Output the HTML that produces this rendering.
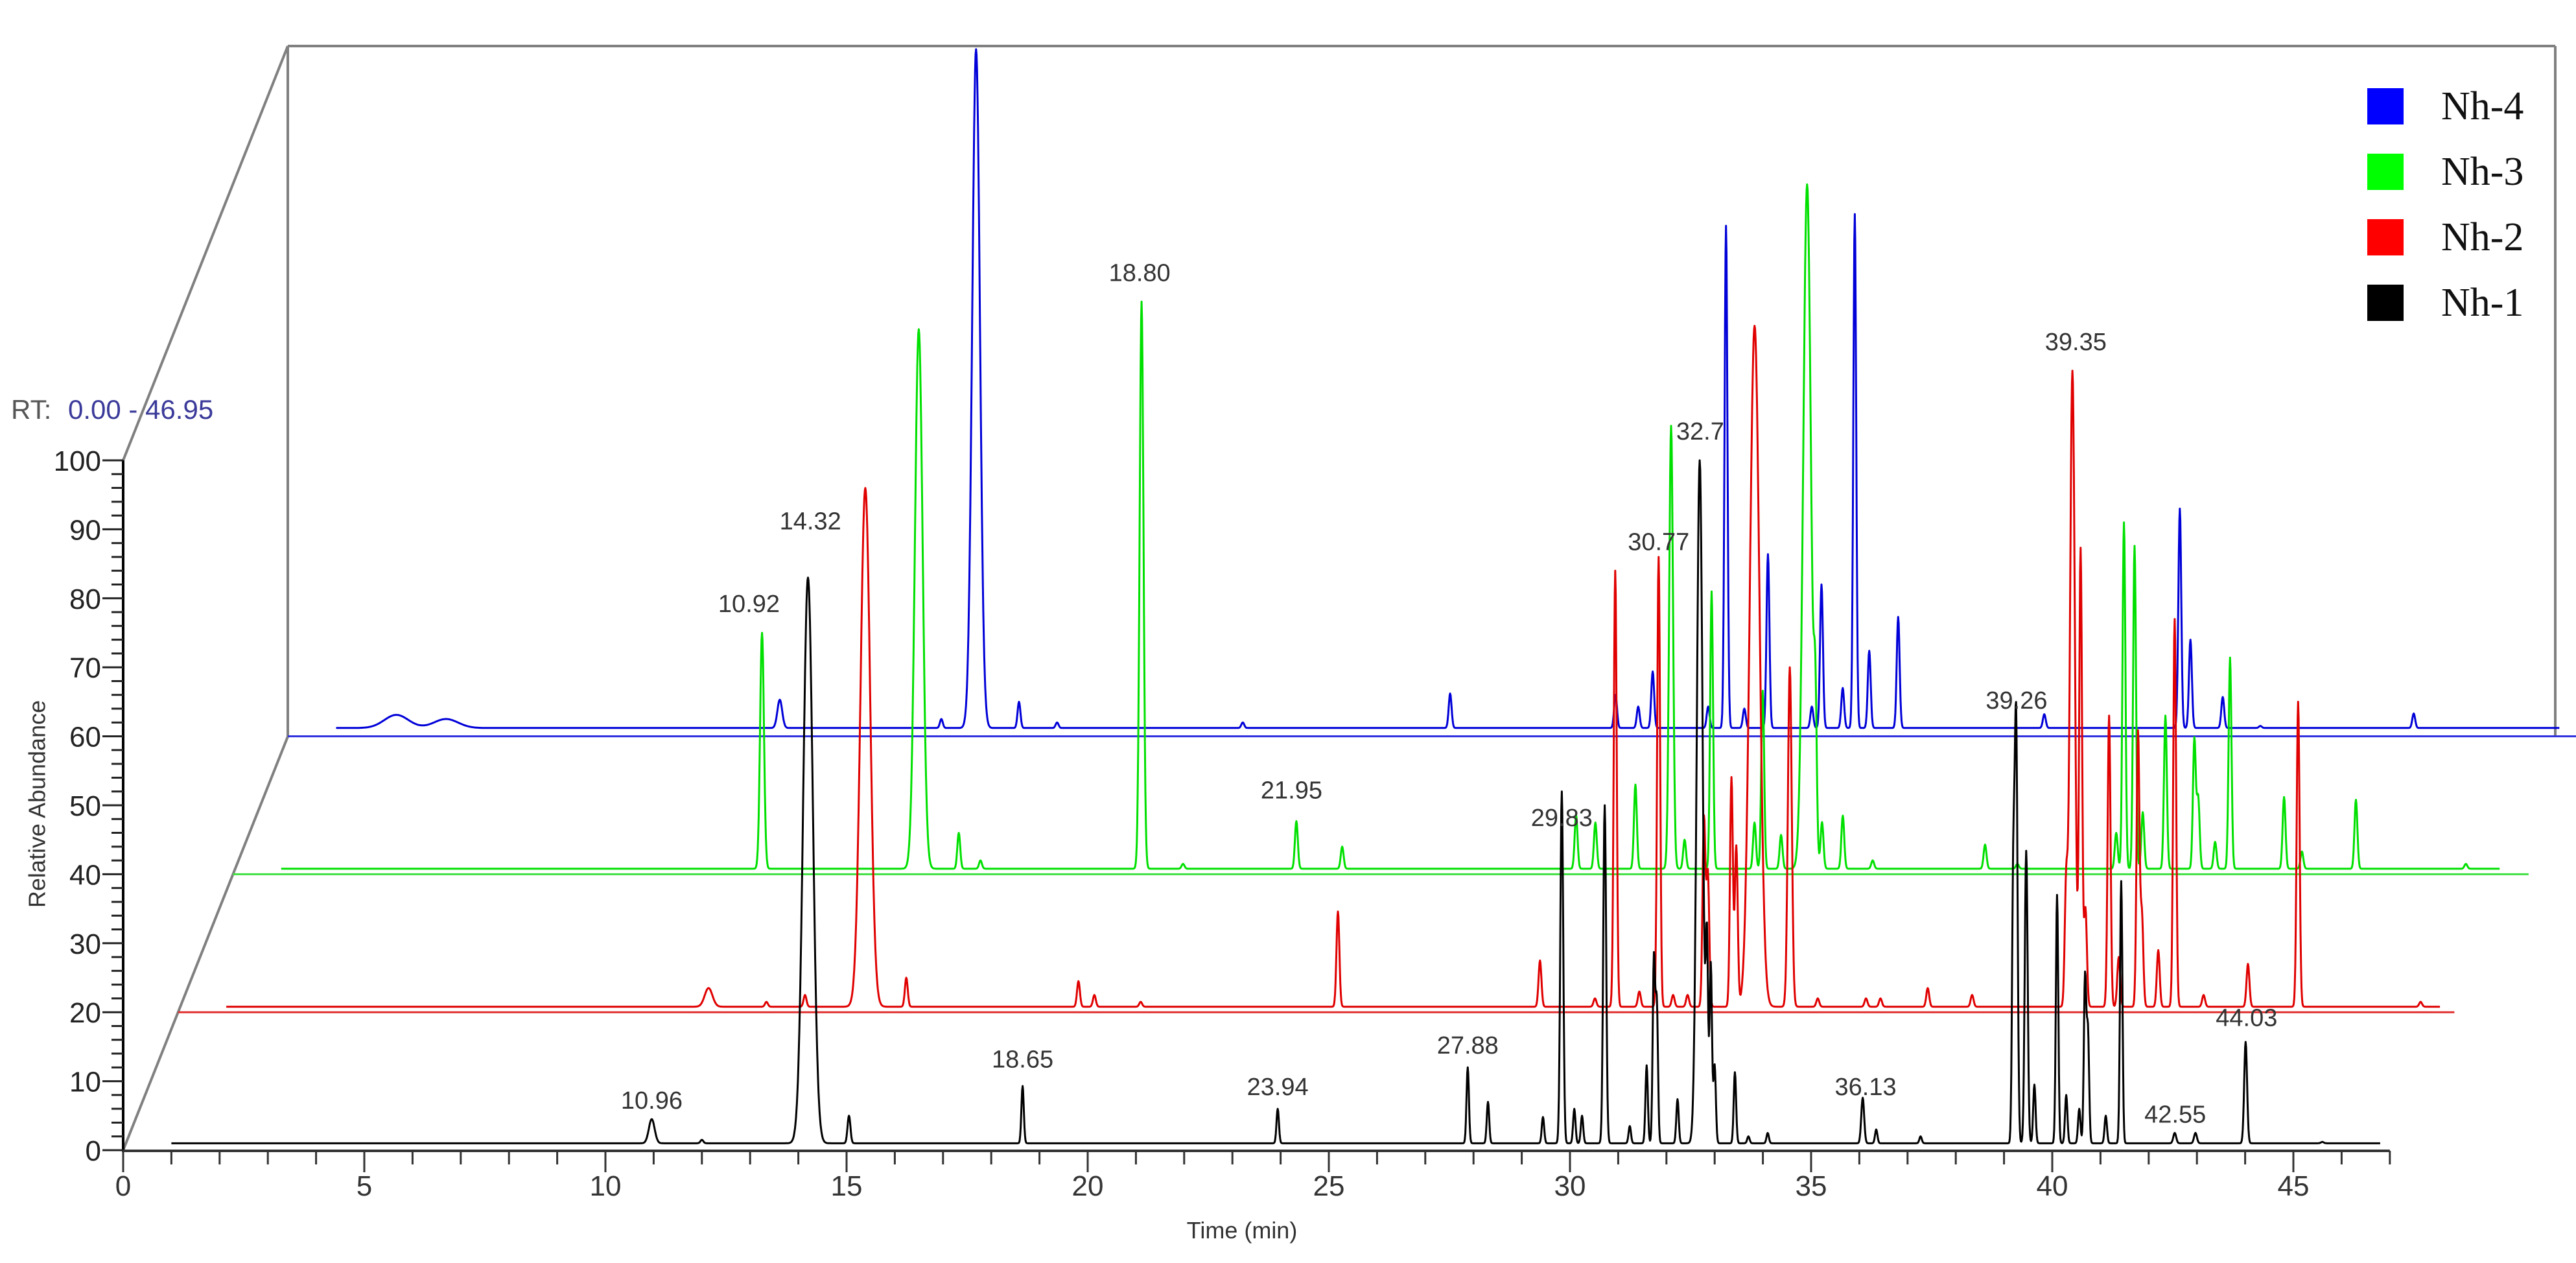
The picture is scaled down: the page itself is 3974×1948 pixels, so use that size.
<!DOCTYPE html>
<html><head><meta charset="utf-8"><style>
html,body{margin:0;padding:0;background:#fff;}
svg{display:block;font-family:"Liberation Sans",Arial,sans-serif;}
</style></head><body>
<svg id="chart" width="3974" height="1948" viewBox="0 0 3974 1948" xmlns="http://www.w3.org/2000/svg">
<g id="frame" stroke="#808080" stroke-width="4" fill="none">
<line x1="190" y1="1774" x2="444" y2="1136"/>
<line x1="190" y1="710" x2="444" y2="71"/>
<line x1="444" y1="71" x2="444" y2="1136"/>
<line x1="444" y1="71" x2="3942" y2="71"/>
<line x1="3942" y1="71" x2="3942" y2="1136"/>
</g>
<g id="layers"></g>
<g id="axes"></g>
<text x="17" y="646" font-size="42" fill="#555">RT:</text>
<text x="105" y="646" font-size="42" fill="#3a3a9a">0.00 - 46.95</text>
<text x="60" y="1240" font-size="36" fill="#333" text-anchor="middle" transform="rotate(-90 60 1240)" dominant-baseline="middle">Relative Abundance</text>
<text x="1916" y="1910" font-size="36" fill="#333" text-anchor="middle">Time (min)</text>
<g id="legend" font-family="'Liberation Serif',serif" font-size="62" fill="#111"></g>
<g id="peaklabels" font-size="38" fill="#333" text-anchor="middle"></g>
</svg>
<script>
const blackTimes=[10.96,12.0,14.2,15.05,18.65,23.94,27.88,28.3,29.44,29.83,30.09,30.25,30.72,31.24,31.59,31.74,31.8,32.23,32.69,32.84,32.92,33.0,33.42,33.7,34.1,36.07,36.35,37.27,39.19,39.25,39.46,39.63,40.1,40.29,40.56,40.68,40.74,41.11,41.43,42.54,42.97,44.01,45.6];
const blackHeights=[4.5,1.5,83,5,9.3,6,12,7,4.8,52,6,5,50,3.5,12.3,27.6,21,7.4,100,28.5,27,12.3,11.3,2,2.5,7.6,3,2,36,63,43.4,9.5,37,8,6,25,17,5,39,2.5,2.5,15.7,1.2];
const blackWidths=[0.06,0.03,0.1,0.03,0.025,0.025,0.025,0.025,0.025,0.03,0.025,0.025,0.03,0.025,0.025,0.025,0.025,0.025,0.06,0.025,0.025,0.025,0.025,0.025,0.025,0.03,0.025,0.025,0.025,0.03,0.03,0.025,0.025,0.025,0.025,0.025,0.025,0.025,0.025,0.03,0.03,0.03,0.03];
const redTimes=[11.0,12.2,13.0,14.25,15.1,18.67,19.0,19.96,24.05,28.24,29.38,29.8,30.3,30.7,31.0,31.3,31.64,31.72,32.21,32.31,32.69,33.42,34.0,35.0,35.3,36.28,37.2,39.15,39.28,39.45,39.55,40.04,40.24,40.64,40.72,41.06,41.4,42.0,42.92,43.96,46.5];
const redHeights=[3.5,1.5,2.5,76,5,4.5,2.5,1.5,14.6,7.5,2,64,3,66,2.5,2.5,28,20,34,24,99.5,50,2,2,2,3.5,2.5,18,93,67,15,43,8,40.5,14,9,57,2.5,7,45,1.5];
const redWidths=[0.08,0.03,0.03,0.1,0.03,0.03,0.03,0.03,0.03,0.03,0.03,0.03,0.03,0.03,0.03,0.03,0.03,0.03,0.03,0.03,0.1,0.04,0.03,0.03,0.03,0.03,0.03,0.03,0.05,0.03,0.03,0.03,0.03,0.03,0.03,0.03,0.03,0.03,0.03,0.03,0.03];
const greenTimes=[10.97,14.22,15.05,15.5,18.84,19.7,22.05,23.0,27.85,28.25,29.08,29.82,30.1,30.66,31.55,31.72,32.1,32.64,32.81,32.95,33.38,34.0,36.33,37.0,39.05,39.21,39.43,39.6,40.07,40.67,40.75,41.1,41.41,42.53,42.9,44.02,46.3];
const greenHeights=[35,79,6,2,83,1.5,7.7,4,8.6,7.5,13,65,5,41,7.5,26.6,5.7,100,21.5,7.5,8.5,2,4.3,1.5,6,51,47.6,9,23,19.6,11,4.7,31.4,11.2,3.3,10.8,1.5];
const greenWidths=[0.04,0.08,0.03,0.03,0.04,0.03,0.03,0.03,0.03,0.03,0.03,0.04,0.03,0.03,0.03,0.03,0.03,0.08,0.03,0.03,0.03,0.03,0.03,0.03,0.03,0.03,0.03,0.03,0.03,0.03,0.03,0.03,0.03,0.03,0.03,0.03,0.03];
const blueTimes=[2.25,3.28,10.2,13.55,14.27,15.16,15.95,19.8,24.1,27.53,28.0,28.3,29.45,29.82,30.2,30.69,31.6,31.8,32.24,32.49,32.79,33.39,36.42,39.23,39.45,40.12,40.9,44.08];
const blueHeights=[3.1,2.5,5.3,2.5,99.6,5,2,2,6.2,6,4.3,9.4,4.3,74,4,26.4,4.3,22,7,75.7,12.4,17.3,3.2,33,14,5.7,1.5,3.3];
const blueWidths=[0.25,0.25,0.05,0.03,0.08,0.03,0.03,0.03,0.03,0.03,0.03,0.03,0.03,0.03,0.03,0.03,0.03,0.03,0.03,0.03,0.03,0.03,0.03,0.03,0.03,0.03,0.03,0.03];
const seriesNames=["Nh-1","Nh-2","Nh-3","Nh-4"];
const yTicks=[0,10,20,30,40,50,60,70,80,90,100];
const xTicks=[0,5,10,15,20,25,30,35,40,45];
const peakLabelText=["10.96","14.32","18.65","23.94","27.88","29.83","30.77","32.7","36.13","39.26","42.55","44.03","10.92","18.80","21.95","39.35"];
const peakLabelTime=[10.96,14.25,18.65,23.94,27.88,29.83,30.7,32.7,36.13,39.26,42.55,44.03,10.7,18.80,21.95,39.35];
const peakLabelLayer=[0,0,0,0,0,0,1,0,0,0,0,0,2,2,2,1];
const peakLabelValue=[6,90,12,8,14,47,67,103,8,64,4,18,38,86,11,96];

const NS="http://www.w3.org/2000/svg";
const X0=190,PX=74.4,LDX=84.7,Y0=1774,PY=10.64,LDY=212.8;
function X(t,L){return X0+LDX*L+PX*t;}
function Y(v,L){return Y0-LDY*L-PY*v;}
function mk(tag,attrs,parent){const e=document.createElementNS(NS,tag);for(const k in attrs)e.setAttribute(k,attrs[k]);parent.appendChild(e);return e;}

const layersG=document.getElementById('layers');
const colors=["#000000","#e00000","#00e000","#0000d8"];
const axisColors=["#000000","#e03030","#40e040","#3030e0"];
const data=[[blackTimes,blackHeights,blackWidths],[redTimes,redHeights,redWidths],[greenTimes,greenHeights,greenWidths],[blueTimes,blueHeights,blueWidths]];
const base=[1.0,0.8,0.8,1.2];
const axisEnd=[47,47.2,47.6,47.6];
for(let L=3;L>=0;L--){
  if(L>0){
    const ln=mk('line',{x1:X(0,L),y1:Y(0,L),x2:X(axisEnd[L],L),y2:Y(0,L),stroke:axisColors[L],'stroke-width':3},layersG);
    
    
  }
  const [ts,hs,ws]=data[L];
  let pts=[];
  for(let t=1.0;t<=46.8+L*0.1;t+=0.01){
    let v=base[L];
    for(let i=0;i<ts.length;i++){const d=(t-ts[i])/ws[i];if(Math.abs(d)<6)v+=(hs[i]-base[L])*Math.exp(-0.5*d*d);}
    pts.push(X(t,L).toFixed(1)+","+Y(v,L).toFixed(1));
  }
  const pl=mk('polyline',{points:pts.join(' '),fill:'none',stroke:colors[L],'stroke-width':3,'stroke-linejoin':'round'},layersG);
  
  
}

const ax=document.getElementById('axes');
mk('line',{x1:190,y1:710,x2:190,y2:1776,stroke:'#000','stroke-width':4},ax);
mk('line',{x1:188,y1:1775,x2:X(47,0),y2:1775,stroke:'#333','stroke-width':4},ax);
for(let v=0;v<=100;v+=2){
  const major=v%10===0;
  mk('line',{x1:major?158:172,y1:Y(v,0),x2:190,y2:Y(v,0),stroke:'#222','stroke-width':3},ax);
}
yTicks.forEach(v=>{
  const t=mk('text',{x:156,y:Y(v,0)+16,'font-size':44,'text-anchor':'end',fill:'#222'},ax);
  t.textContent=v;
  
  
});
for(let m=0;m<=47;m++){
  const major=m%5===0;
  mk('line',{x1:X(m,0),y1:1775,x2:X(m,0),y2:major?1808:1796,stroke:'#333','stroke-width':3},ax);
}
xTicks.forEach(v=>{
  const t=mk('text',{x:X(v,0),y:1844,'font-size':44,'text-anchor':'middle',fill:'#333'},ax);
  t.textContent=v;
  
  
});

const lg=document.getElementById('legend');
const legColors=["#0000ff","#00ff00","#ff0000","#000000"];
const legNames=["Nh-4","Nh-3","Nh-2","Nh-1"];
legNames.forEach((n,i)=>{
  const y=136+i*101;
  const r=mk('rect',{x:3652,y:y,width:56,height:56,fill:legColors[i]},lg);
  
  
  const t=mk('text',{x:3766,y:y+48},lg);
  t.textContent=n;
  
  
});

const pg=document.getElementById('peaklabels');
peakLabelText.forEach((s,i)=>{
  const L=peakLabelLayer[i];
  const t=mk('text',{x:X(peakLabelTime[i],L),y:Y(peakLabelValue[i],L)},pg);
  t.textContent=s;
  
  
});
</script>
</body></html>
